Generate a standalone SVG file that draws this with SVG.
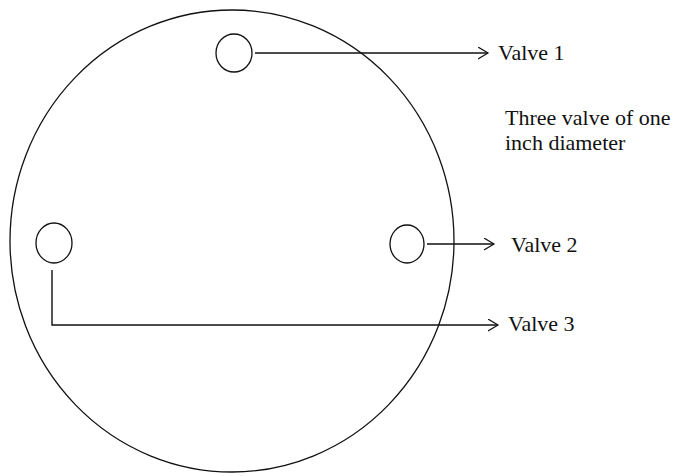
<svg xmlns="http://www.w3.org/2000/svg" width="673" height="476" viewBox="0 0 673 476">
<defs>
<style>
.sh{fill:none;stroke:#111;stroke-width:1.3}
.cn{fill:none;stroke:#111;stroke-width:1.4}
.lb{font-family:"Liberation Serif","Times New Roman",serif;font-size:22px;fill:#111}
</style>
<marker id="ah" markerWidth="12" markerHeight="14" refX="10" refY="6" orient="auto" markerUnits="userSpaceOnUse">
<polyline points="0,0 10,6 0,12" fill="none" stroke="#111" stroke-width="1.2"/>
</marker>
</defs>
<rect width="673" height="476" fill="#fff"/>
<g id="disc"><ellipse class="sh" cx="232" cy="241" rx="222" ry="231"/></g>
<g id="valve1-hole"><ellipse class="sh" cx="234" cy="53" rx="18" ry="19"/></g>
<g id="valve2-hole"><ellipse class="sh" cx="407" cy="244" rx="17" ry="19"/></g>
<g id="valve3-hole"><ellipse class="sh" cx="54" cy="243" rx="18" ry="20"/></g>
<g id="connectors">
<line class="cn" x1="255" y1="53" x2="488" y2="53" marker-end="url(#ah)"/>
<line class="cn" x1="427" y1="244" x2="494" y2="244" marker-end="url(#ah)"/>
<path class="cn" d="M52,270 V325 H498" marker-end="url(#ah)"/>
</g>
<g id="label-valve1"><text class="lb" x="498" y="60">Valve 1</text></g>
<g id="label-valve2"><text class="lb" x="511" y="252">Valve 2</text></g>
<g id="label-valve3"><text class="lb" x="508" y="331">Valve 3</text></g>
<g id="note"><text class="lb" x="505" y="125">Three valve of one</text><text class="lb" x="505" y="150">inch diameter</text></g>
</svg>
